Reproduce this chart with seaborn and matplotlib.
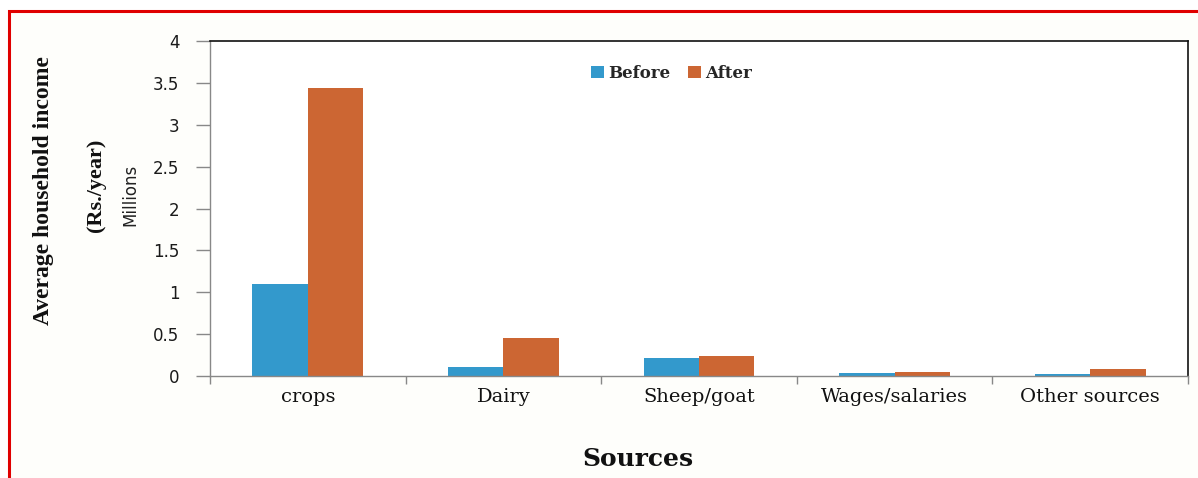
import numpy as np
import pandas as pd
import matplotlib
matplotlib.use("Agg")
import matplotlib.pyplot as plt
from matplotlib.patches import Rectangle
import seaborn as sns

# Average household income by source (millions of Rs. per year)
sources = ["crops", "Dairy", "Sheep/goat", "Wages/salaries", "Other sources"]
before = [1.10, 0.11, 0.22, 0.036, 0.02]
after = [3.44, 0.455, 0.24, 0.05, 0.085]
periods = ["Before", "After"]
colors = ["#3399cc", "#cc6633"]
yticks = [0, 0.5, 1, 1.5, 2, 2.5, 3, 3.5, 4]

df = pd.DataFrame({
    "Source": sources * 2,
    "Period": [periods[0]] * len(sources) + [periods[1]] * len(sources),
    "Income": before + after,
})

sns.set_theme(style="white")

W, H = 1198, 478
fig = plt.figure(figsize=(W / 100, H / 100), dpi=100)
fig.patch.set_facecolor("white")

# red outline box around the chart
frame = Rectangle((9 / W, -0.2), 1.2, (H - 11) / H + 0.2, transform=fig.transFigure,
                  facecolor="#fefefb", edgecolor="#e00000", lw=2.2, zorder=-5)
fig.add_artist(frame)

ax = fig.add_axes([210 / W, (H - 376) / H, (1188 - 210) / W, (376 - 41) / H])
ax.set_facecolor("white")

sns.barplot(data=df, x="Source", y="Income", hue="Period", hue_order=periods,
            palette=colors, saturation=1, width=0.567, errorbar=None,
            linewidth=0, edgecolor="none", ax=ax)

ax.set_xlim(-0.5, len(sources) - 0.5)
ax.set_ylim(0, 4)
ax.set_yticks(yticks)
ax.set_yticklabels([f"{v:g}" for v in yticks], fontfamily="DejaVu Sans",
                   fontsize=12, color="#1a1a1a")
ax.set_xticks(range(len(sources)))
ax.set_xticklabels(sources, fontfamily="DejaVu Serif", fontsize=14, color="#111111")
ax.set_xticks(np.arange(-0.5, len(sources), 1), minor=True)
ax.tick_params(axis="x", which="major", length=0, pad=9)
ax.tick_params(axis="x", which="minor", length=6, width=1, color="#888888",
               direction="out", bottom=True)
ax.tick_params(axis="y", which="major", length=10, width=1, color="#888888",
               direction="out", left=True, pad=12)
ax.set_xlabel("")
ax.set_ylabel("")
ax.grid(False)

for side in ["left", "bottom"]:
    ax.spines[side].set_color("#888888")
    ax.spines[side].set_linewidth(1.0)
for side in ["top", "right"]:
    ax.spines[side].set_color("#111111")
    ax.spines[side].set_linewidth(1.2)

leg = ax.legend(loc="center", bbox_to_anchor=(0.472, 0.904), ncol=2, frameon=False,
                handlelength=0.75, handleheight=0.75, handletextpad=0.25,
                columnspacing=1.1,
                prop={"family": "DejaVu Serif", "weight": "bold", "size": 12})

# axis titles
fig.text(44 / W, 1 - 191 / H, "Average household income", rotation=90,
         ha="center", va="center", fontfamily="Liberation Serif",
         fontweight="bold", fontsize=17, color="#111111")
fig.text(96 / W, 1 - 185 / H, "(Rs./year)", rotation=90,
         ha="center", va="center", fontfamily="Liberation Serif",
         fontweight="bold", fontsize=16, color="#111111")
fig.text(130 / W, 1 - 195 / H, "Millions", rotation=90,
         ha="center", va="center", fontfamily="DejaVu Sans Condensed",
         fontsize=12, color="#222222")
fig.text(638 / W, 1 - 459 / H, "Sources", ha="center", va="center",
         fontfamily="DejaVu Serif", fontweight="bold", fontsize=18, color="#111111")

fig.savefig("out.png", dpi=100)
